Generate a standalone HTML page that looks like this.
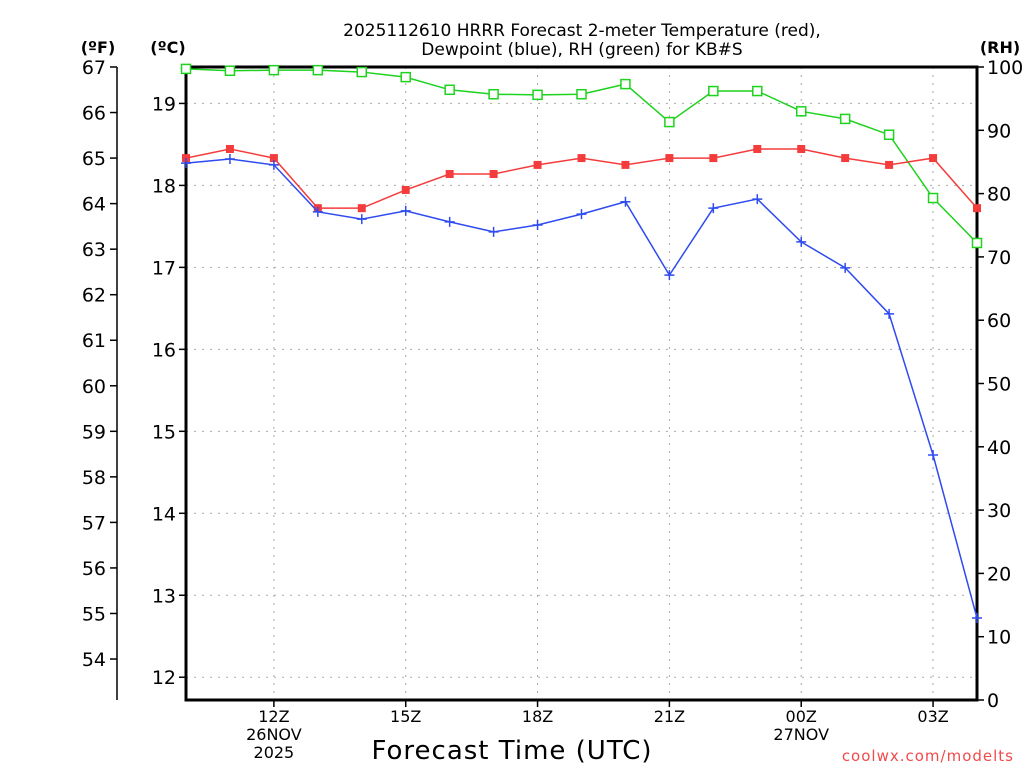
<!DOCTYPE html>
<html><head><meta charset="utf-8"><style>
html,body{margin:0;padding:0;background:#fff;}
svg{display:block;font-family:"DejaVu Sans","Liberation Sans",sans-serif;}
</style></head><body>
<svg id="chart" width="1024" height="768" viewBox="0 0 1024 768" xmlns="http://www.w3.org/2000/svg">
<g font-size="17" fill="#000" text-anchor="middle">
<text x="582" y="36">2025112610 HRRR Forecast 2-meter Temperature (red),</text>
<text x="582" y="55">Dewpoint (blue), RH (green) for KB#S</text>
</g>
<text x="98" y="53" font-size="16" font-weight="bold" text-anchor="middle">(ºF)</text>
<text x="168" y="53" font-size="16" font-weight="bold" text-anchor="middle">(ºC)</text>
<text x="1000" y="53" font-size="16" font-weight="bold" text-anchor="middle">(RH)</text>
<g id="grid"></g>
<g id="axes"></g>
<g id="series"></g>
<text x="512" y="759" font-size="26" text-anchor="middle" letter-spacing="1">Forecast Time (UTC)</text>
<text x="1014" y="761" font-size="15" fill="#f04a4a" text-anchor="end" letter-spacing="1">coolwx.com/modelts</text>
</svg>
<script>
const hours = ["10","11","12","13","14","15","16","17","18","19","20","21","22","23","00","01","02","03","04"];
const tempF = [65.0,65.2,65.0,63.9,63.9,64.3,64.65,64.65,64.85,65.0,64.85,65.0,65.0,65.2,65.2,65.0,64.85,65.0,63.9];
const dewF = [64.89,64.98,64.85,63.82,63.66,63.84,63.6,63.38,63.53,63.77,64.04,62.43,63.9,64.1,63.16,62.59,61.58,58.48,54.9];
const rh = [99.7,99.4,99.5,99.5,99.2,98.4,96.4,95.7,95.6,95.7,97.3,91.3,96.2,96.2,93.0,91.8,89.3,79.3,72.2];
const fTicks = [54,55,56,57,58,59,60,61,62,63,64,65,66,67];
const cTicks = [12,13,14,15,16,17,18,19];
const rhTicks = [0,10,20,30,40,50,60,70,80,90,100];
const xTickIdx = [2,5,8,11,14,17];
const xTickLabels = [["12Z","26NOV","2025"],["15Z"],["18Z"],["21Z"],["00Z","27NOV"],["03Z"]];

const L=186,R=977,T=67,B=700;
const NS='http://www.w3.org/2000/svg';
const xs=i=>L+(R-L)*i/(hours.length-1);
const yF=f=>T+(67-f)*45.54;
const yC=c=>yF(c*1.8+32);
const yRH=v=>B-(B-T)*v/100;
function mk(tag,attrs,parent){const e=document.createElementNS(NS,tag);for(const k in attrs)e.setAttribute(k,attrs[k]);parent.appendChild(e);return e;}
const grid=document.getElementById('grid'),axes=document.getElementById('axes'),series=document.getElementById('series');

xTickIdx.forEach((i,k)=>{
  const l=mk('line',{x1:xs(i),x2:xs(i),y1:T,y2:B,stroke:'#aaa','stroke-dasharray':'2,6'},grid);
  
  
  mk('line',{x1:xs(i),x2:xs(i),y1:B,y2:B+7,stroke:'#000','stroke-width':1.5},axes);
  xTickLabels[k].forEach((s,j)=>{
    const t=mk('text',{x:xs(i),y:B+22+j*18,'font-size':16,'text-anchor':'middle'},axes);
    t.textContent=s;
    
    
  });
});
cTicks.forEach(c=>{
  const y=yC(c);
  const l=mk('line',{x1:L,x2:R,y1:y,y2:y,stroke:'#aaa','stroke-dasharray':'2,6'},grid);
  
  
  mk('line',{x1:L-7,x2:L,y1:y,y2:y,stroke:'#000','stroke-width':1.5},axes);
  const t=mk('text',{x:L-10,y:y+7,'font-size':19,'text-anchor':'end'},axes);
  t.textContent=c;
  
  
});
fTicks.forEach(f=>{
  const y=yF(f);
  mk('line',{x1:110,x2:117,y1:y,y2:y,stroke:'#000','stroke-width':1.5},axes);
  const t=mk('text',{x:106,y:y+7,'font-size':19,'text-anchor':'end'},axes);
  t.textContent=f;
  
  
});
rhTicks.forEach(v=>{
  const y=yRH(v);
  mk('line',{x1:R,x2:R+7,y1:y,y2:y,stroke:'#000','stroke-width':1.5},axes);
  const t=mk('text',{x:R+10,y:y+7,'font-size':19,'text-anchor':'start'},axes);
  t.textContent=v;
  
  
});
mk('line',{x1:117,x2:117,y1:T,y2:B,stroke:'#000','stroke-width':1.5},axes);
mk('rect',{x:L,y:T,width:R-L,height:B-T,fill:'none',stroke:'#000','stroke-width':3},axes);

function drawSeries(vals,yfn,color,marker,name){
  const g=mk('g',{},series);
  
  
  const pts=vals.map((v,i)=>xs(i)+','+yfn(v)).join(' ');
  mk('polyline',{points:pts,fill:'none',stroke:color,'stroke-width':1.5},g);
  vals.forEach((v,i)=>{
    const x=xs(i),y=yfn(v);
    let m;
    if(marker==='sq') m=mk('rect',{x:x-4,y:y-4,width:8,height:8,fill:color},g);
    else if(marker==='open') m=mk('rect',{x:x-4.5,y:y-4.5,width:9,height:9,fill:'#fff',stroke:color,'stroke-width':1.5},g);
    else m=mk('path',{d:`M${x-5},${y}H${x+5}M${x},${y-5}V${y+5}`,stroke:color,'stroke-width':1.5},g);
    
    
  });
}
drawSeries(rh,yRH,'#1ed21e','open','rh-series');
drawSeries(tempF,yF,'#f53c3c','sq','temperature-series');
drawSeries(dewF,yF,'#2e4bf0','plus','dewpoint-series');
</script>
</body></html>
